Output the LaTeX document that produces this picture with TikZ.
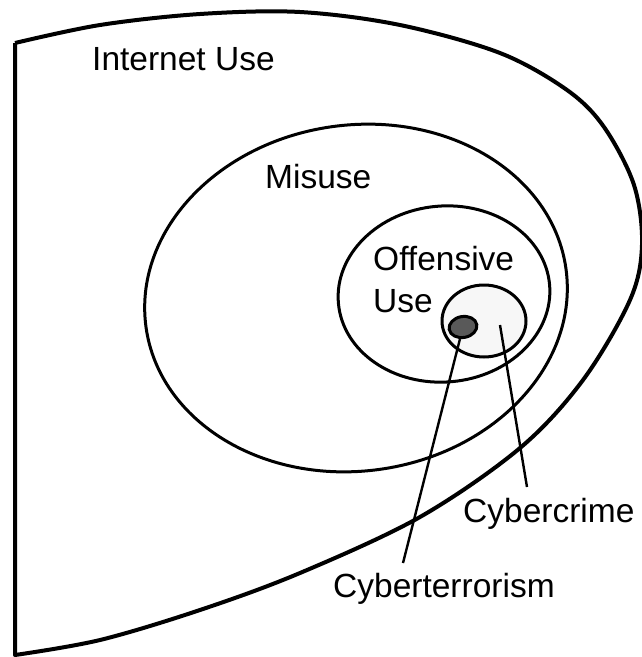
\documentclass[tikz,border=0pt]{standalone}
\usepackage{fontspec}
\setmainfont{Liberation Sans}
\usetikzlibrary{shapes.geometric,calc}
\tikzset{
  ring/.style    = {draw, ellipse, line width=3pt, inner sep=0pt},
  hull/.style    = {draw, line width=4pt, line join=round},
  leader/.style  = {line width=2.4pt},
  lbl/.style     = {font=\fontsize{33.5}{42}\selectfont, inner sep=0pt, anchor=base west},
}
\begin{document}
\begin{tikzpicture}[x=1pt, y=-1pt]
  \useasboundingbox (0,0) rectangle (641,657);
  % outer region
  \draw[hull] (15,43) -- (15,655) -- plot[smooth, tension=0.55] coordinates {
    (15,655) (100,640) (200,610) (300,573) (420,517) (520,448) (583,380)
    (630,300) (642,245) (634,185) (604,127) (567,90) (500,53) (400,25)
    (300,12) (200,14) (100,25) (15,43)};
  % nested sets
  \node[ring, minimum width=424pt, minimum height=346pt, rotate=8] (misuse) at (356,298) {};
  \node[ring, minimum width=212pt, minimum height=176pt, rotate=5] (offense) at (444,294) {};
  \node[ring, minimum width=84pt, minimum height=72pt, fill=black!3] (crime) at (484,321) {};
  \node[ring, minimum width=28pt, minimum height=21pt, fill=black!65, rotate=10] (terror) at (463,327) {};
  % labels
  \node[lbl] (lblnet) at (92,70) {Internet Use};
  \node[lbl] (lblmisuse) at (265,188) {Misuse};
  \node[lbl, align=left] (lbloffense) at (373,312) {Offensive\\Use};
  \node[lbl] (lblcrime) at (463,522) {Cybercrime};
  \node[lbl] (lblterror) at (333,597) {Cyberterrorism};
  \coordinate (ccpt) at (500,325);
  \coordinate (ccend) at (527,487);
  \coordinate (ctend) at (403,563);
  \draw[leader] (terror) -- (ctend);
  \draw[leader] (ccpt) -- (ccend);
\end{tikzpicture}
\end{document}
